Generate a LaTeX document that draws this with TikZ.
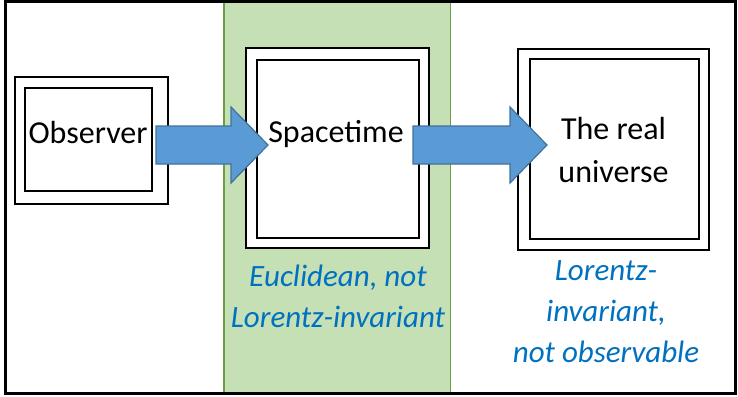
\documentclass[tikz,border=0pt]{standalone}
\usepackage{fontspec}
\setmainfont{Carlito}
\usetikzlibrary{calc}
\definecolor{bandgreen}{HTML}{C5E0B4}
\definecolor{bandedge}{HTML}{6A9E45}
\definecolor{arrowblue}{HTML}{5B9BD5}
\definecolor{arrowedge}{HTML}{41719C}
\definecolor{notetext}{HTML}{0070C0}
% block arrow from tail coordinate #1 to tip coordinate #2
\newcommand{\blockarrow}[2]{%
  \draw[bigarrow] ($(#1)+(0,-19)$) -- ($(#2)+(-37,-19)$) -- ($(#2)+(-37,-38)$)
    -- (#2) -- ($(#2)+(-37,38)$) -- ($(#2)+(-37,19)$) -- ($(#1)+(0,19)$) -- cycle;}

\begin{document}
\begin{tikzpicture}[x=1pt,y=-1pt,
  box/.style={draw=black,line width=2pt,fill=white,inner sep=0pt,outer sep=0pt},
  bigarrow/.style={fill=arrowblue,draw=arrowedge,line width=1.2pt,line join=miter},
  word/.style={anchor=base,align=center,inner sep=0pt,font=\fontsize{32}{43}\selectfont},
  note/.style={word,text=notetext,font=\fontsize{31}{41}\selectfont\itshape}]
   \useasboundingbox (0,0) rectangle (738,396);
   % green band behind the spacetime box
   \draw[fill=bandgreen,draw=bandedge,line width=1.8pt] (224,1.3) rectangle (450.5,393.5);
   \draw[line width=2.5pt] (5.3,1.3) rectangle (735.5,393.5);
   % double boxes
   \node[box,minimum width=153.3,minimum height=127] (obsout) at (91.35,140.5) {};
   \node[box,minimum width=127,minimum height=103] (obsin) at (88.5,139.5) {};
   \node[box,minimum width=183,minimum height=200] (stout) at (337.5,148) {};
   \node[box,minimum width=161.5,minimum height=178] (stin) at (337.75,149) {};
   \node[box,minimum width=190.5,minimum height=201] (univout) at (613.25,149.5) {};
   \node[box,minimum width=169.5,minimum height=180] (univin) at (614.25,149) {};
   % arrows
   \coordinate (obstail) at (156,145);
   \coordinate (sttip) at (268,145);
   \coordinate (sttail) at (413,145);
   \coordinate (univtip) at (547,145);
   \blockarrow{obstail}{sttip}
   \blockarrow{sttail}{univtip}
   % texts (multi-line nodes sit on their last baseline)
   \node[word] (obstext) at (88,143) {Observer};
   \node[word] (sttext) at (336,142) {Spacetime};
   \node[word] (univtext) at (613.5,182) {The real\\universe};
   \node[note] (stnote) at (338,327) {Euclidean, not\\Lorentz-invariant};
   \node[note] (univnote) at (606,362) {Lorentz-\\invariant,\\not observable};
\end{tikzpicture}
\end{document}
